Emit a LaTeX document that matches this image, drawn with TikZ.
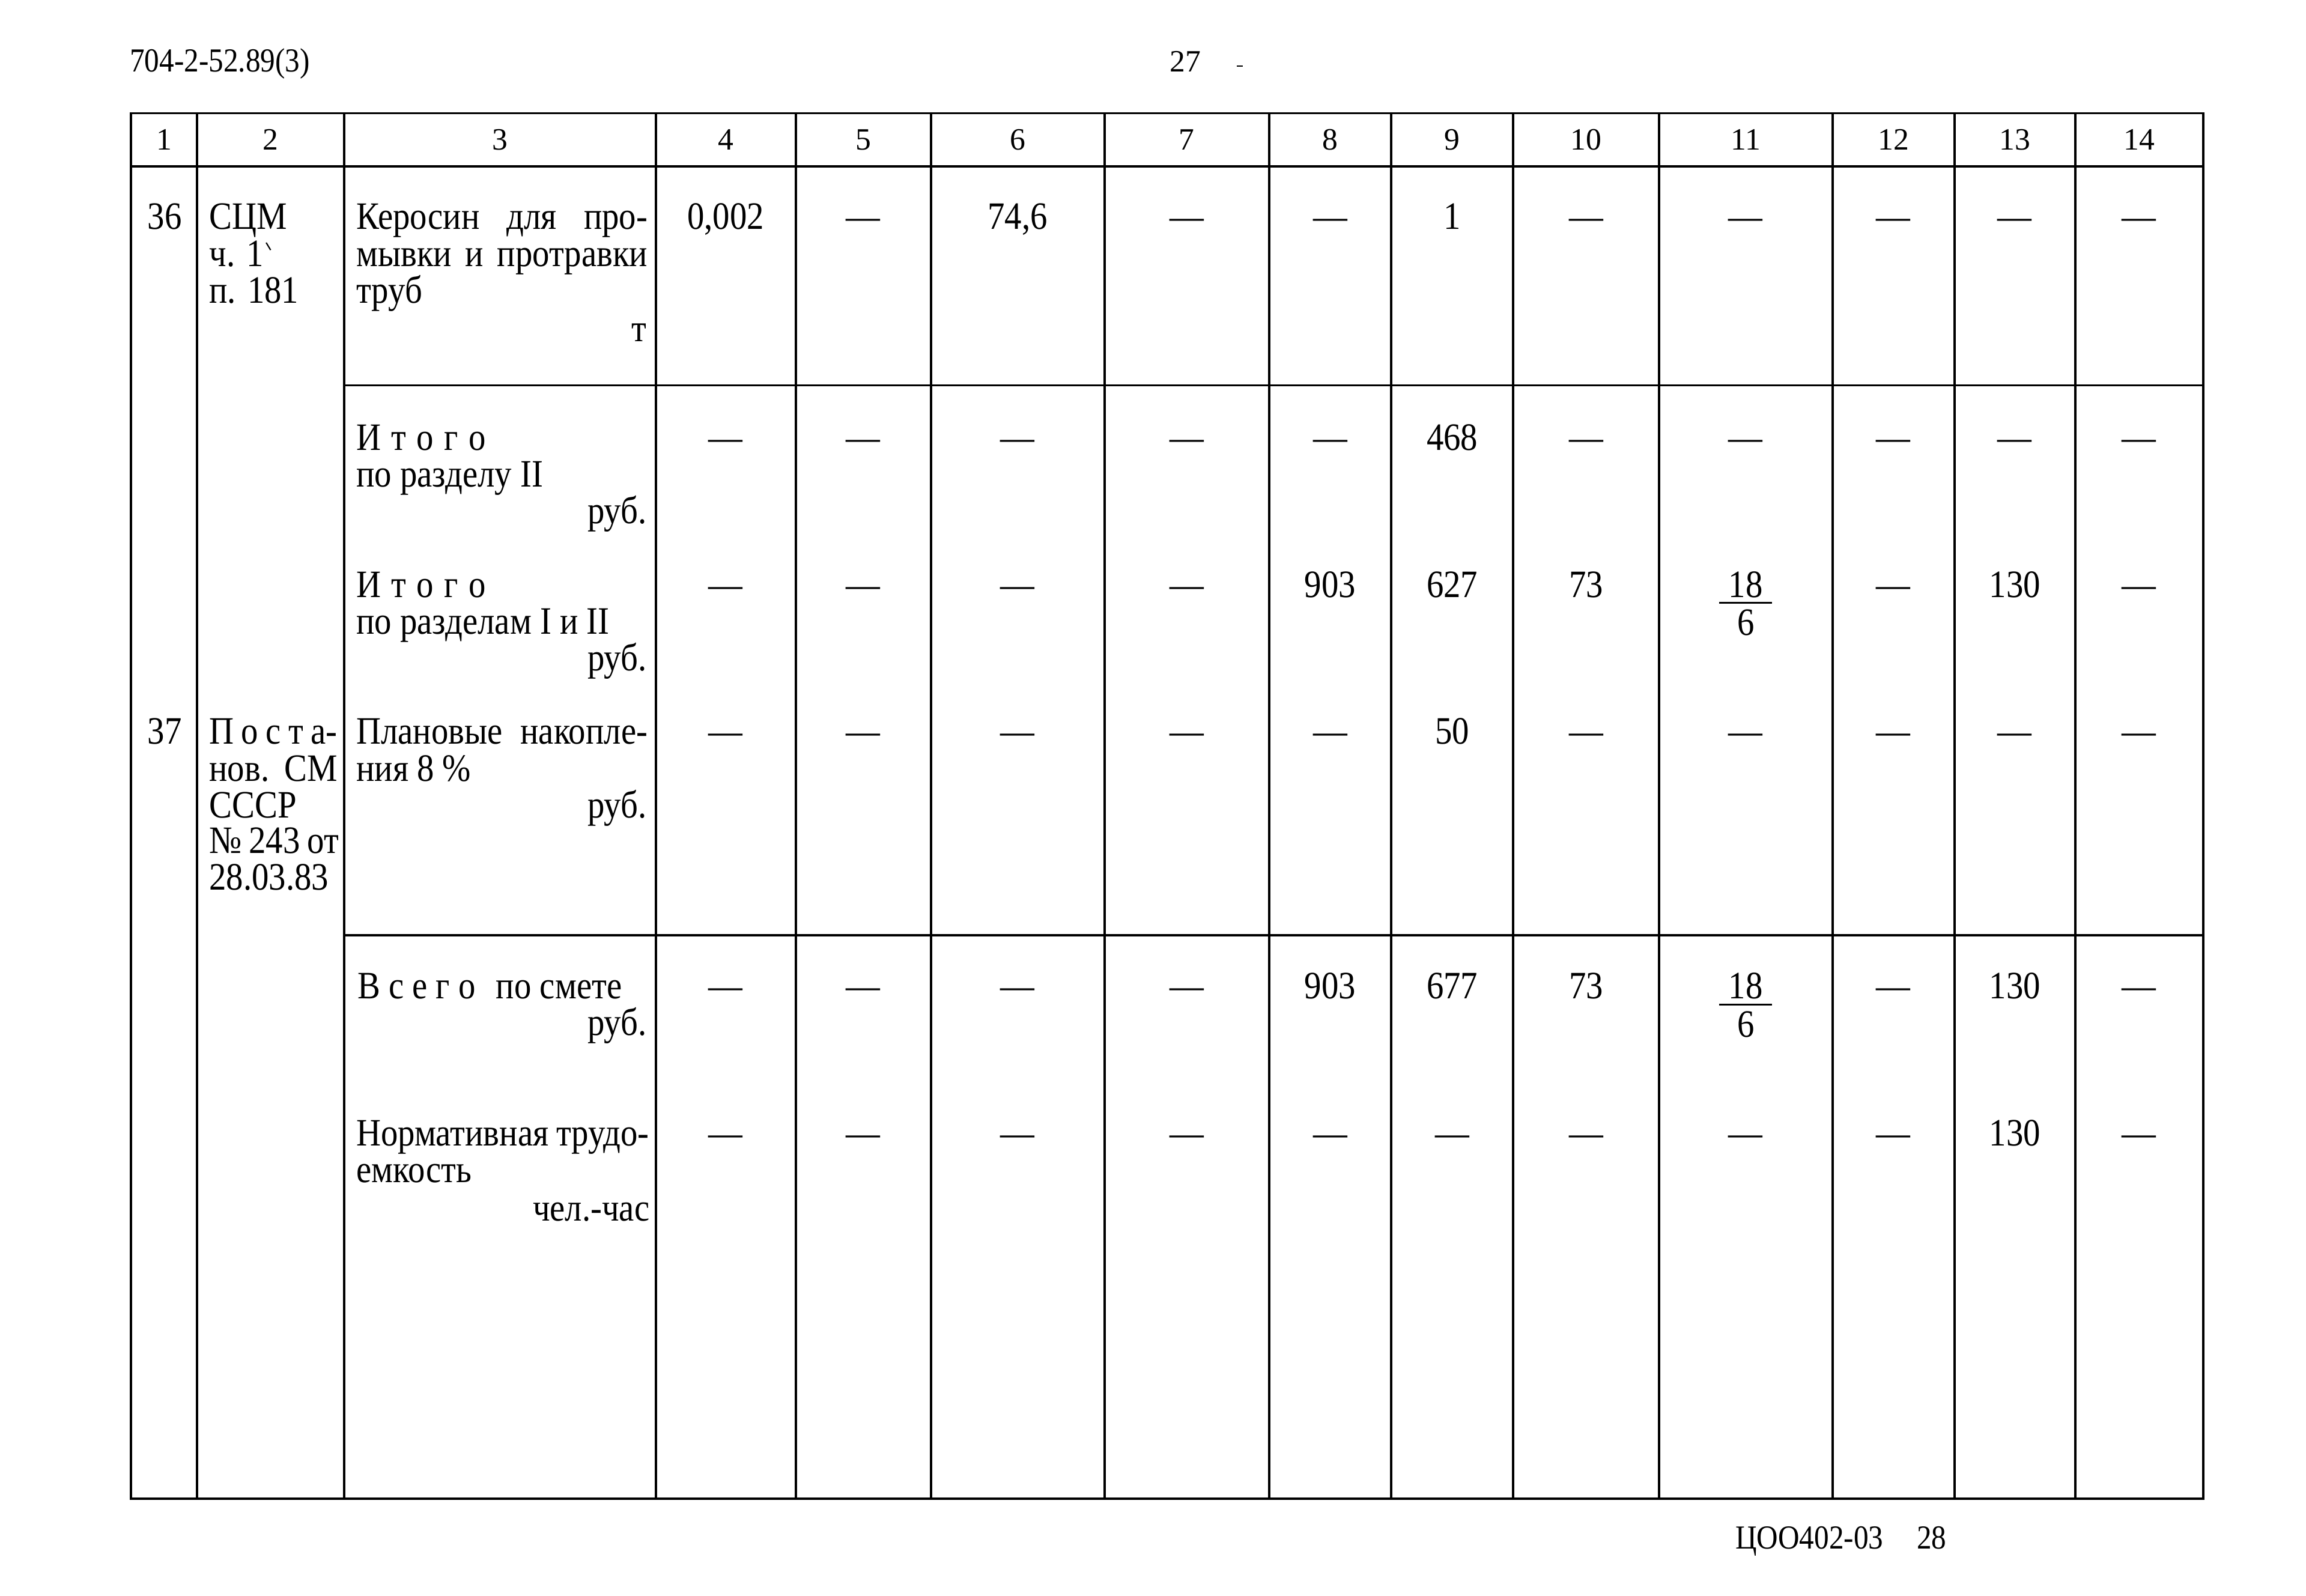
\documentclass[tikz,border=0pt]{standalone}
\usepackage{fontspec}
\setmainfont{Liberation Serif}[FakeStretch=0.88]
\newfontfamily\hdrfont{Liberation Serif}
\newcommand\bodyfont{\fontsize{15}{14}\selectfont}
\newcommand\topfont{\fontsize{13}{14}\selectfont}
\newcommand\jst[2]{\makebox[#1mm][s]{#2}}
\def\colc{{493.5,587,692,807,904.5,987.5,1078.5,1187,1287.5,1370,1454.5}}
\newcommand\datarow[3]{\foreach \v [count=\i] in {#3}{\pgfmathsetmacro\xc{\colc[\i-1]}\node[tc] (#1\i) at (\xc,#2) {\v};}}
\begin{document}
\begin{tikzpicture}[x=0.2mm,y=-0.2mm,
  grid/.style={line width=0.9pt},
  tl/.style={anchor=base west, inner sep=0pt, font=\bodyfont},
  tr/.style={anchor=base east, inner sep=0pt, font=\bodyfont},
  tc/.style={anchor=base, inner sep=0pt, font=\bodyfont},
  hd/.style={anchor=base, inner sep=0pt, font=\hdrfont\fontsize{12}{14}\selectfont},
  fr/.style={line width=0.7pt}]
\useasboundingbox (0,0) rectangle (1568,1085);
% grid
\draw[grid] (89,77) rectangle (1498,1019);
\draw[grid] (89,113) -- (1498,113);
\foreach \x in {134,234,446,541,633,751,863,946,1029,1128,1246,1329,1411}
  \draw[grid] (\x,77) -- (\x,1019);
\draw[grid] (234,262) -- (1498,262);
\draw[grid] (234,636) -- (1498,636);
% page header / footer
\node[tl, font=\topfont] (top1) at (88,49) {704-2-52.89(3)};
\node[hd] (top2) at (806,49) {27};
\draw[line width=0.6pt] (841,45) -- (845,45);
\node[tl, font=\topfont] (ft1) at (1180,1053) {ЦОО402-03};
\node[tl, font=\topfont] (ft2) at (1303,1053) {28};
% column numbers
\foreach \x [count=\i] in {111.5,184,340,493.5,587,692,807,904.5,987.5,1078.5,1187,1287.5,1370,1454.5}
  \node[hd] (h\i) at (\x,102) {\i};
% row 36
\node[tc] (n36) at (112,156) {36};
\node[tl] (c2a) at (142,156) {СЦМ};
\node[tl] (c2b) at (142,181) {ч. 1};
\draw[line width=0.5pt] (181,165) -- (184,170);
\node[tl] (c2c) at (142,206) {п. 181};
\node[tl] (c3a) at (242,156) {\jst{39.6}{Керосин для про-}};
\node[tl] (c3b) at (242,181) {\jst{39.6}{мывки и протравки}};
\node[tl] (c3c) at (242,206) {труб};
\node[tr] (c3d) at (440,232) {т};
% itogo II
\node[tl] (it1a) at (242,306) {\jst{17.6}{И\hfill т\hfill о\hfill г\hfill о}};
\node[tl] (it1b) at (242,331) {по разделу II};
\node[tr] (it1c) at (440,356) {руб.};
% itogo I, II
\node[tl] (it2a) at (242,406) {\jst{17.6}{И\hfill т\hfill о\hfill г\hfill о}};
\node[tl] (it2b) at (242,431) {по разделам I и II};
\node[tr] (it2c) at (440,456) {руб.};
% row 37
\node[tc] (n37) at (112,506) {37};
\node[tl] (p1) at (142,506) {\jst{17.4}{П\hfill о\hfill с\hfill т\hfill а-}};
\node[tl] (p2) at (142,531) {\jst{17.4}{нов. СМ}};
\node[tl] (p3) at (142,556) {СССР};
\node[tl] (p4) at (142,580) {\jst{17.6}{№ 243 от}};
\node[tl] (p5) at (142,605) {28.03.83};
\node[tl] (pl1) at (242,506) {\jst{39.6}{Плановые накопле-}};
\node[tl] (pl2) at (242,531) {ния 8 \%};
\node[tr] (pl3) at (440,556) {руб.};
% vsego
\node[tl] (vs1) at (243,679) {\jst{16}{В\hfill с\hfill е\hfill г\hfill о}\hspace{2.8mm}по смете};
\node[tr] (vs2) at (440,704) {руб.};
% normativnaya
\node[tl] (nm1) at (242,779) {\jst{39.8}{Нормативная трудо-}};
\node[tl] (nm2) at (242,804) {емкость};
\node[tr] (nm3) at (442,830) {чел.-час};
% data
\datarow{ra}{156}{{0,002},—,{74,6},—,—,1,—,—,—,—,—}
\datarow{rb}{306}{—,—,—,—,—,468,—,—,—,—,—}
\datarow{rc}{406}{—,—,—,—,903,627,73,18,—,130,—}
\datarow{rd}{506}{—,—,—,—,—,50,—,—,—,—,—}
\datarow{re}{679}{—,—,—,—,903,677,73,18,—,130,—}
\datarow{rf}{779}{—,—,—,—,—,—,—,—,—,130,—}
% fractions
\draw[fr] (1169,410) -- (1205,410);
\node[tc] (fc1) at (1187,432) {6};
\draw[fr] (1169,683) -- (1205,683);
\node[tc] (fc2) at (1187,705) {6};
\end{tikzpicture}
\end{document}
